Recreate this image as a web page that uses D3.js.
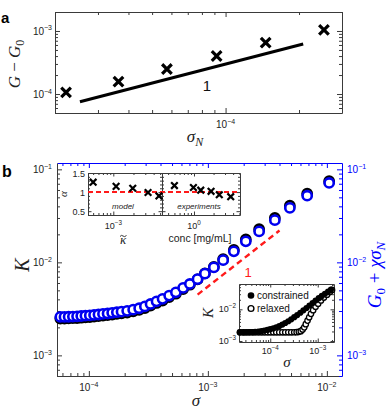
<!DOCTYPE html>
<html>
<head>
<meta charset="utf-8">
<style>
    body { margin: 0; background: #fff; }
    svg { font-family: 'Liberation Sans', Arial, sans-serif; }
    .math { font-family: 'Liberation Serif', 'DejaVu Serif', serif; font-style: italic; }
</style>
</head>
<body>
<svg width="390" height="412"></svg>
<script src="https://d3js.org/d3.v7.min.js"></script>
<script>
// ---- panel a: G - G0 vs sigma_N ----
const aSigma = [2.22e-5, 3.64e-5, 5.75e-5, 9.19e-5, 1.46e-4, 2.53e-4];
const aG = [1.06e-4, 1.57e-4, 2.49e-4, 4.01e-4, 6.52e-4, 1.04e-3];
const aSlopeSigma = [2.53e-5, 2.08e-4];
const aSlopeG = [7.55e-5, 6.22e-4];

// ---- panel b: K (constrained, black) and G0 + chi sigma_N (blue) vs sigma ----
const bSigma = [5.76e-5, 6.24e-5, 6.76e-5, 7.34e-5, 7.96e-5, 8.63e-5, 9.36e-5, 1.018e-4, 1.106e-4, 1.204e-4,
    1.314e-4, 1.436e-4, 1.57e-4, 1.719e-4, 1.882e-4, 2.099e-4, 2.357e-4, 2.647e-4, 2.955e-4, 3.299e-4,
    3.705e-4, 4.161e-4, 4.729e-4, 5.385e-4, 6.2e-4, 7.06e-4, 8.19e-4, 9.44e-4, 1.123e-3, 1.344e-3,
    1.653e-3, 2.084e-3, 2.697e-3, 3.655e-3, 4.886e-3, 6.83e-3, 1.045e-2];
const bFit = [2.59e-3, 2.59e-3, 2.6e-3, 2.61e-3, 2.63e-3, 2.65e-3, 2.67e-3, 2.69e-3, 2.72e-3, 2.75e-3,
    2.79e-3, 2.82e-3, 2.87e-3, 2.91e-3, 2.95e-3, 3.01e-3, 3.1e-3, 3.21e-3, 3.36e-3, 3.57e-3,
    3.81e-3, 4.05e-3, 4.39e-3, 4.76e-3, 5.31e-3, 5.86e-3, 6.6e-3, 7.56e-3, 8.83e-3, 1.056e-2,
    1.313e-2, 1.681e-2, 2.153e-2, 2.843e-2, 3.85e-2, 5.21e-2, 7.14e-2];
const bK = [2.49e-3, 2.49e-3, 2.5e-3, 2.51e-3, 2.52e-3, 2.54e-3, 2.56e-3, 2.58e-3, 2.61e-3, 2.64e-3,
    2.68e-3, 2.71e-3, 2.75e-3, 2.79e-3, 2.83e-3, 2.89e-3, 2.98e-3, 3.08e-3, 3.23e-3, 3.43e-3,
    3.66e-3, 3.89e-3, 4.23e-3, 4.6e-3, 5.16e-3, 5.75e-3, 6.55e-3, 7.6e-3, 8.95e-3, 1.08e-2,
    1.36e-2, 1.76e-2, 2.27e-2, 3.0e-2, 4.06e-2, 5.48e-2, 7.45e-2];
const bSlopeSigma = [8.2e-4, 4.0e-3];
const bSlopeK = [4.5e-3, 2.2e-2];

// ---- inset: exponent alpha ----
const kappa = [5.0e-4, 1.1e-3, 1.95e-3, 3.3e-3, 4.8e-3];
const alphaModel = [1.26, 1.15, 1.10, 0.99, 0.90];
const conc = [0.5, 0.98, 1.27, 1.83, 2.45, 3.67];
const alphaExp = [1.17, 1.12, 1.05, 1.02, 0.93, 0.88];

// ---- inset: constrained vs relaxed ----
const cSigmaCons = [2.3e-5, 2.7e-5, 3.1e-5, 3.6e-5, 4.2e-5, 4.8e-5, 5.6e-5, 6.5e-5, 7.5e-5, 8.7e-5,
    1.0e-4, 1.16e-4, 1.34e-4, 1.55e-4, 1.8e-4, 2.07e-4, 2.4e-4, 2.77e-4, 3.2e-4, 3.7e-4,
    4.3e-4, 5.0e-4, 5.8e-4, 6.7e-4, 7.8e-4, 9.0e-4, 1.05e-3, 1.22e-3, 1.42e-3, 1.65e-3, 1.9e-3];
const cKCons = [1.88e-3, 1.88e-3, 1.89e-3, 1.9e-3, 1.92e-3, 1.95e-3, 1.99e-3, 2.05e-3, 2.13e-3, 2.23e-3,
    2.36e-3, 2.52e-3, 2.72e-3, 2.98e-3, 3.3e-3, 3.7e-3, 4.2e-3, 4.85e-3, 5.65e-3, 6.6e-3,
    7.8e-3, 9.3e-3, 1.1e-2, 1.32e-2, 1.58e-2, 1.9e-2, 2.25e-2, 2.65e-2, 3.1e-2, 3.6e-2, 4.2e-2];
const cSigmaRel = [2.3e-5, 2.7e-5, 3.1e-5, 3.6e-5, 4.2e-5, 4.8e-5, 5.6e-5, 6.5e-5, 7.5e-5, 8.7e-5,
    1.0e-4, 1.16e-4, 1.34e-4, 1.55e-4, 1.8e-4, 2.07e-4, 2.4e-4, 2.77e-4, 3.2e-4, 3.6e-4,
    4.0e-4, 4.4e-4, 4.8e-4, 5.2e-4, 5.6e-4, 6.1e-4, 6.6e-4, 7.2e-4, 8.0e-4, 9.0e-4,
    1.02e-3, 1.17e-3, 1.35e-3, 1.57e-3, 1.8e-3, 2.0e-3];
const cKRel = [1.88e-3, 1.88e-3, 1.88e-3, 1.88e-3, 1.88e-3, 1.88e-3, 1.88e-3, 1.88e-3, 1.88e-3, 1.88e-3,
    1.88e-3, 1.88e-3, 1.88e-3, 1.88e-3, 1.88e-3, 1.88e-3, 1.88e-3, 1.88e-3, 1.89e-3, 1.9e-3,
    1.95e-3, 2.05e-3, 2.3e-3, 2.7e-3, 3.4e-3, 4.4e-3, 5.6e-3, 7.2e-3, 9.4e-3, 1.2e-2,
    1.5e-2, 1.9e-2, 2.35e-2, 2.9e-2, 3.5e-2, 4.1e-2];

const svg = d3.select("svg");
const ink = "#3a3a3a";
const blue = "#0000ff";

const isPow10 = d => Math.abs(Math.log10(d) - Math.round(Math.log10(d))) < 1e-6;

// one side of a box, matlab style ticks pointing inwards
function side(g, scale, where, pos, color, ticks, isMajor, lenMaj, lenMin) {
    const horiz = where == "bottom" || where == "top";
    const gen = { bottom: d3.axisBottom, top: d3.axisTop, left: d3.axisLeft, right: d3.axisRight }[where](scale)
        .tickValues(ticks)
        .tickSizeInner(-lenMaj)
        .tickSizeOuter(0)
        .tickFormat("");
    const a = g.append("g")
        .attr("transform", horiz ? `translate(0,${pos})` : `translate(${pos},0)`)
        .call(gen);
    a.select(".domain").attr("stroke", color).attr("stroke-width", 1);
    const att = horiz ? "y2" : "x2";
    a.selectAll(".tick line")
        .attr("stroke", color)
        .attr(att, function (d) {
            const v = +d3.select(this).attr(att);
            return isMajor(d) ? v : v * lenMin / lenMaj;
        });
    a.selectAll(".tick text").remove();
    return a;
}

function box(g, x, y, colors, xt, yt, xMaj, yMaj, lenMaj, lenMin) {
    const [x0, x1] = x.range(), [y0, y1] = y.range();
    side(g, x, "bottom", y0, colors[0], xt, xMaj, lenMaj, lenMin);
    side(g, x, "top", y1, colors[1], xt, xMaj, lenMaj, lenMin);
    side(g, y, "left", x0, colors[2], yt, yMaj, lenMaj, lenMin);
    side(g, y, "right", x1, colors[3], yt, yMaj, lenMaj, lenMin);
}

function powLabel(g, x, y, v, anchor, color, size) {
    const e = Math.round(Math.log10(v));
    const t = g.append("text")
        .attr("x", x).attr("y", y)
        .attr("text-anchor", anchor)
        .attr("fill", color)
        .style("font-size", size + "px");
    t.append("tspan").text("10");
    t.append("tspan")
        .attr("dy", -size * 0.45)
        .style("font-size", (size * 0.7) + "px")
        .text(e < 0 ? "\u2212" + (-e) : e);
}

function cross(s) {
    return `M${-s},${-s}L${s},${s}M${-s},${s}L${s},${-s}`;
}

// ================= panel a =================
const ax = d3.scaleLog().domain([2e-5, 3e-4]).range([55, 342]);
const ay = d3.scaleLog().domain([5e-5, 2e-3]).range([113, 12]);
const ga = svg.append("g");

box(ga, ax, ay, [ink, ink, ink, ink], ax.ticks(), ay.ticks(), isPow10, isPow10, 5, 3);

ay.ticks().filter(isPow10).forEach(v => powLabel(ga, 52, ay(v) + 4, v, "end", "#222", 10));
ax.ticks().filter(isPow10).forEach(v => powLabel(ga, ax(v), 128, v, "middle", "#222", 10));

ga.append("path")
    .attr("d", d3.line().x(d => ax(d[0])).y(d => ay(d[1]))(d3.zip(aSlopeSigma, aSlopeG)))
    .attr("fill", "none")
    .attr("stroke", "#000")
    .attr("stroke-width", 3);

ga.append("g")
    .selectAll("path")
    .data(d3.zip(aSigma, aG))
    .join("path")
    .attr("transform", d => `translate(${ax(d[0])},${ay(d[1])})`)
    .attr("d", cross(4.8))
    .attr("stroke", "#000")
    .attr("stroke-width", 3.2)
    .attr("fill", "none");

ga.append("text").attr("x", 207).attr("y", 91).attr("text-anchor", "middle")
    .style("font-size", "15px").attr("fill", "#111").text("1");

ga.append("text").attr("x", 1).attr("y", 23).style("font-size", "15px").style("font-weight", "bold").text("a");

const aYl = ga.append("text").attr("class", "math")
    .attr("transform", "translate(20,64) rotate(-90)")
    .attr("text-anchor", "middle").style("font-size", "17px").attr("fill", "#222");
aYl.append("tspan").text("G");
aYl.append("tspan").style("font-style", "normal").text(" \u2212 ");
aYl.append("tspan").text("G");
aYl.append("tspan").attr("dy", 4).style("font-size", "12px").style("font-style", "normal").text("0");

const aXl = ga.append("text").attr("class", "math")
    .attr("x", 195).attr("y", 142).attr("text-anchor", "middle")
    .style("font-size", "17px").attr("fill", "#222");
aXl.append("tspan").text("\u03c3");
aXl.append("tspan").attr("dy", 4).style("font-size", "12px").text("N");

// ================= panel b =================
const bx = d3.scaleLog().domain([5.4e-5, 1.34e-2]).range([57, 342]);
const by = d3.scaleLog().domain([6e-4, 0.117]).range([376, 163]);
const gb = svg.append("g");

box(gb, bx, by, [ink, blue, ink, blue], bx.ticks(), by.ticks(), isPow10, isPow10, 5, 3);

by.ticks().filter(isPow10).forEach(v => {
    powLabel(gb, 52, by(v) + 4, v, "end", "#222", 10);
    powLabel(gb, 347, by(v) + 4, v, "start", blue, 10);
});
bx.ticks().filter(isPow10).forEach(v => powLabel(gb, bx(v), 391, v, "middle", "#222", 10));

const pts = d3.zip(bSigma, bK, bFit);

gb.append("g")
    .selectAll("circle")
    .data(pts)
    .join("circle")
    .attr("cx", d => bx(d[0]))
    .attr("cy", d => by(d[1]))
    .attr("r", 4.6)
    .attr("fill", "#fff")
    .attr("stroke", "#000")
    .attr("stroke-width", 2.6);

gb.append("g")
    .selectAll("circle")
    .data(pts)
    .join("circle")
    .attr("cx", d => bx(d[0]))
    .attr("cy", d => by(d[2]))
    .attr("r", 4.6)
    .attr("fill", "#fff")
    .attr("stroke", "#0000f0")
    .attr("stroke-width", 2.6);

gb.append("path")
    .attr("d", d3.line().x(d => bx(d[0])).y(d => by(d[1]))(d3.zip(bSlopeSigma, bSlopeK)))
    .attr("stroke", "#ff1a1a")
    .attr("stroke-width", 2.4)
    .attr("stroke-dasharray", "6,4")
    .attr("fill", "none");

gb.append("text").attr("x", 248).attr("y", 277).attr("text-anchor", "middle")
    .style("font-size", "13px").attr("fill", "#ff1a1a").text("1");

gb.append("text").attr("x", 2).attr("y", 177).style("font-size", "16px").style("font-weight", "bold").text("b");

gb.append("text").attr("class", "math")
    .attr("transform", "translate(29,265) rotate(-90)")
    .attr("text-anchor", "middle").style("font-size", "20px").attr("fill", "#222").text("K");

gb.append("text").attr("class", "math")
    .attr("x", 196).attr("y", 406).attr("text-anchor", "middle")
    .style("font-size", "17px").attr("fill", "#222").text("\u03c3");

const rl = gb.append("text").attr("class", "math")
    .attr("transform", "translate(381,275) rotate(-90)")
    .attr("text-anchor", "middle").style("font-size", "19px").attr("fill", blue);
rl.append("tspan").text("G");
rl.append("tspan").attr("dy", 4).style("font-size", "13px").style("font-style", "normal").text("0");
rl.append("tspan").attr("dy", -4).style("font-style", "normal").text(" + ");
rl.append("tspan").text("\u03c7\u03c3");
rl.append("tspan").attr("dy", 4).style("font-size", "13px").text("N");

// ---------- inset: alpha ----------
const gi = svg.append("g");
const iy = d3.scaleLinear().domain([0.4, 1.5]).range([215, 173]);
const ixm = d3.scaleLog().domain([4.19e-4, 5.33e-3]).range([88, 162]);
const ixe = d3.scaleLog().domain([0.322, 5.1]).range([162, 240]);

gi.append("rect").attr("x", 88).attr("y", 173).attr("width", 152).attr("height", 42).attr("fill", "#fff");

const alphaTicks = d3.range(4, 16).map(k => k / 10);
const alphaMajor = d => Math.abs(d * 2 - Math.round(d * 2)) < 1e-6;
box(gi, ixm, iy, [ink, ink, ink, ink], ixm.ticks(), alphaTicks, isPow10, alphaMajor, 3.5, 2);
box(gi, ixe, iy, [ink, ink, ink, ink], ixe.ticks(), alphaTicks, isPow10, alphaMajor, 3.5, 2);

[0.5, 1, 1.5].forEach(v => gi.append("text").attr("x", 85).attr("y", iy(v) + 3.5)
    .attr("text-anchor", "end").style("font-size", "9px").attr("fill", "#222").text(v));
ixm.ticks().filter(isPow10).forEach(v => powLabel(gi, ixm(v), 229, v, "middle", "#222", 9));
ixe.ticks().filter(isPow10).forEach(v => powLabel(gi, ixe(v), 229, v, "middle", "#222", 9));

gi.append("line")
    .attr("x1", 88).attr("x2", 240).attr("y1", iy(1)).attr("y2", iy(1))
    .attr("stroke", "#ff1a1a").attr("stroke-width", 2).attr("stroke-dasharray", "5,3");

gi.append("g").selectAll("path")
    .data(d3.zip(kappa, alphaModel))
    .join("path")
    .attr("transform", d => `translate(${ixm(d[0])},${iy(d[1])})`)
    .attr("d", cross(3.3)).attr("stroke", "#000").attr("stroke-width", 2.2).attr("fill", "none");

gi.append("g").selectAll("path")
    .data(d3.zip(conc, alphaExp))
    .join("path")
    .attr("transform", d => `translate(${ixe(d[0])},${iy(d[1])})`)
    .attr("d", cross(3.3)).attr("stroke", "#000").attr("stroke-width", 2.2).attr("fill", "none");

gi.append("text").attr("x", 123).attr("y", 209).attr("text-anchor", "middle")
    .style("font-size", "8px").style("font-style", "italic").attr("fill", "#222").text("model");
gi.append("text").attr("x", 199).attr("y", 209).attr("text-anchor", "middle")
    .style("font-size", "8px").style("font-style", "italic").attr("fill", "#222").text("experiments");

gi.append("text").attr("class", "math")
    .attr("transform", "translate(67,194) rotate(-90)")
    .attr("text-anchor", "middle").style("font-size", "11px").attr("fill", "#222").text("\u03b1");
gi.append("text").attr("class", "math")
    .attr("x", 123).attr("y", 244).attr("text-anchor", "middle")
    .style("font-size", "13px").attr("fill", "#222").text("\u03ba");
// tilde over kappa
gi.append("path")
    .attr("d", "M120,236.5 q1.5,-2 3,-0.5 t3.5,-0.5")
    .attr("fill", "none").attr("stroke", "#222").attr("stroke-width", 0.9);
gi.append("text")
    .attr("x", 200).attr("y", 242).attr("text-anchor", "middle")
    .style("font-size", "10.5px").attr("fill", "#222").text("conc [mg/mL]");

// ---------- inset: constrained vs relaxed ----------
const gc = svg.append("g");
const cx = d3.scaleLog().domain([2.2e-5, 2.2e-3]).range([239, 334]);
const cy = d3.scaleLog().domain([9.3e-4, 6.3e-2]).range([342, 284]);

gc.append("rect").attr("x", 239).attr("y", 284).attr("width", 95).attr("height", 58).attr("fill", "#fff");
box(gc, cx, cy, [ink, ink, ink, ink], cx.ticks(), cy.ticks(), isPow10, isPow10, 3.5, 2);

cy.ticks().filter(isPow10).forEach(v => powLabel(gc, 236, cy(v) + 3, v, "end", "#222", 9));
cx.ticks().filter(isPow10).forEach(v => powLabel(gc, cx(v), 354, v, "middle", "#222", 9));

gc.append("g").selectAll("circle")
    .data(d3.zip(cSigmaRel, cKRel))
    .join("circle")
    .attr("cx", d => cx(d[0])).attr("cy", d => cy(d[1]))
    .attr("r", 2.7).attr("fill", "#fff").attr("stroke", "#000").attr("stroke-width", 1.3);

gc.append("g").selectAll("circle")
    .data(d3.zip(cSigmaCons, cKCons))
    .join("circle")
    .attr("cx", d => cx(d[0])).attr("cy", d => cy(d[1]))
    .attr("r", 3.1).attr("fill", "#000");

gc.append("circle").attr("cx", 251).attr("cy", 295.5).attr("r", 3.3).attr("fill", "#000");
gc.append("text").attr("x", 257).attr("y", 299).style("font-size", "10px").attr("fill", "#111").text("constrained");
gc.append("circle").attr("cx", 251).attr("cy", 308.5).attr("r", 2.9)
    .attr("fill", "#fff").attr("stroke", "#000").attr("stroke-width", 1.4);
gc.append("text").attr("x", 257).attr("y", 312).style("font-size", "10px").attr("fill", "#111").text("relaxed");

gc.append("text").attr("class", "math")
    .attr("transform", "translate(213,313) rotate(-90)")
    .attr("text-anchor", "middle").style("font-size", "15px").attr("fill", "#222").text("K");
gc.append("text").attr("class", "math")
    .attr("x", 287).attr("y", 367).attr("text-anchor", "middle")
    .style("font-size", "15px").attr("fill", "#222").text("\u03c3");
</script>
</body>
</html>
